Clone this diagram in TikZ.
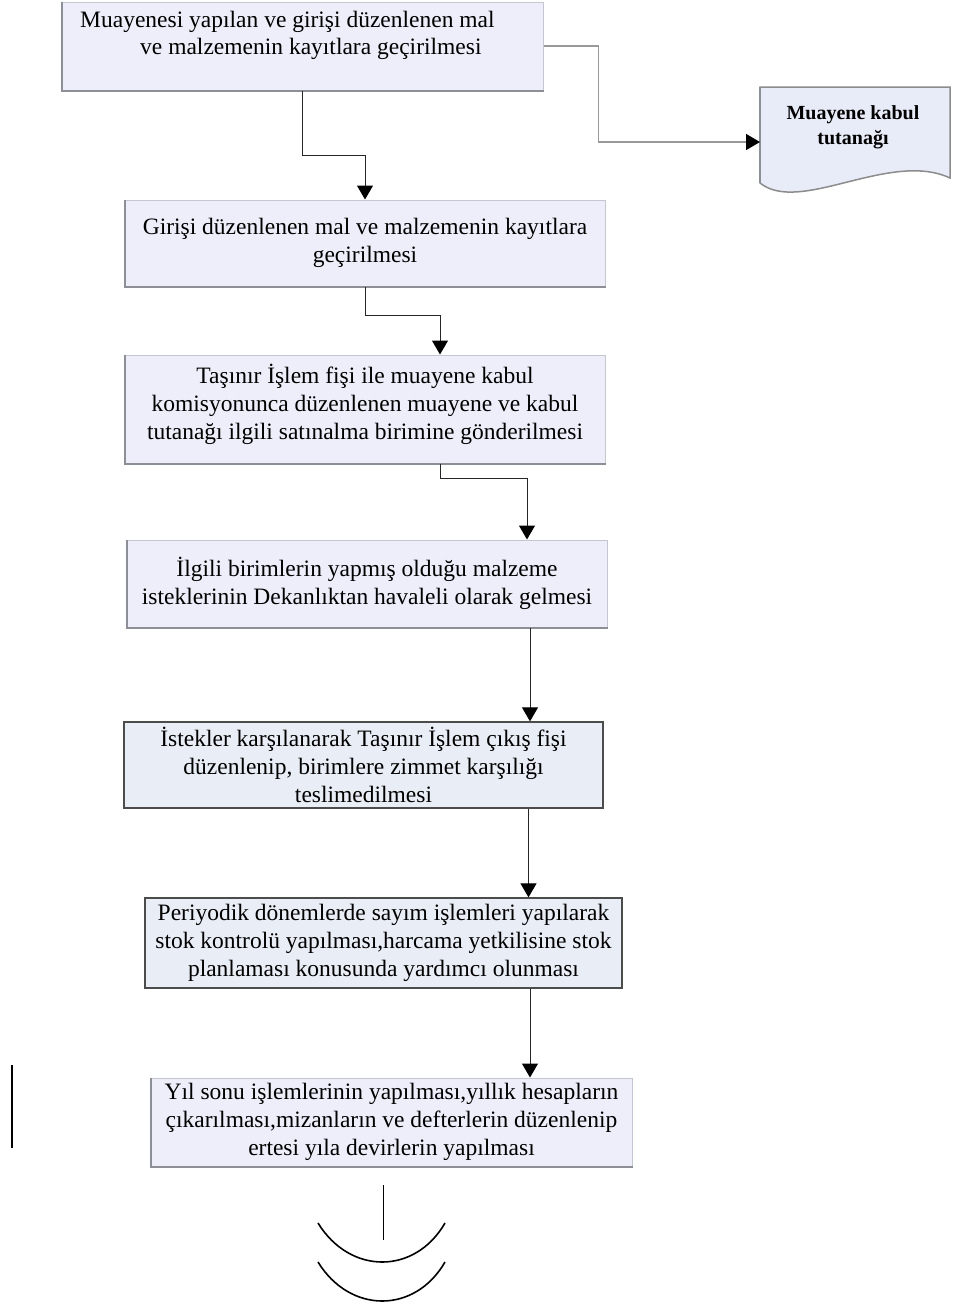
\documentclass[tikz,border=0pt]{standalone}
\usepackage{fontspec}
\setmainfont{Liberation Serif}
\usetikzlibrary{arrows.meta}
\definecolor{boxfill}{HTML}{EEEEFA}
\definecolor{boxfillb}{HTML}{E9EDF5}
\definecolor{docfill}{HTML}{E8ECF8}
\definecolor{rimgray}{HTML}{C4C6D0}
\definecolor{edgegray}{HTML}{8C8F96}
\tikzset{
  stepbox/.style={draw=rimgray, fill=boxfill, line width=1pt, inner sep=0pt, align=center, font=\fontsize{23.5}{28}\selectfont},
  darkbox/.style={stepbox, draw=black!70, fill=boxfillb, line width=1.3pt},
  shade/.style={draw=edgegray, line width=2pt},
  flow/.style={draw=black!85, line width=1pt, -{Triangle[length=14pt,width=16pt,black]}},
  grayflow/.style={flow, draw=black!40, line width=1.5pt},
}
\begin{document}
\begin{tikzpicture}[x=1pt,y=-1pt]
    \useasboundingbox (0,0) rectangle (953,1307);
    \node[stepbox, minimum width=481pt, minimum height=88pt] (kayit) at (302.5,46) {};
    \node[anchor=base west, inner sep=0pt, font=\fontsize{23.5}{28}\selectfont] (kayitA) at (80,27) {Muayenesi yapılan ve girişi düzenlenen mal};
    \node[anchor=base west, inner sep=0pt, font=\fontsize{23.5}{28}\selectfont] (kayitB) at (140,54) {ve malzemenin kayıtlara geçirilmesi};
    \node[stepbox, minimum width=480pt, minimum height=86pt] (giris) at (365,243) {Girişi düzenlenen mal ve malzemenin kayıtlara\\geçirilmesi};
    \node[stepbox, minimum width=480pt, minimum height=108pt] (tasinir) at (365,409) {Taşınır İşlem fişi ile muayene kabul\\komisyonunca düzenlenen muayene ve kabul\\tutanağı ilgili satınalma birimine gönderilmesi\\[-14pt]};
    \node[stepbox, minimum width=480pt, minimum height=87pt] (talep) at (367,583.5) {İlgili birimlerin yapmış olduğu malzeme\\isteklerinin Dekanlıktan havaleli olarak gelmesi};
    \node[darkbox, minimum width=479pt, minimum height=86pt] (cikis) at (363.5,765) {İstekler karşılanarak Taşınır İşlem çıkış fişi\\düzenlenip, birimlere zimmet karşılığı\\teslimedilmesi};
    \node[darkbox, minimum width=477pt, minimum height=90pt] (sayim) at (383.5,943) {Periyodik dönemlerde sayım işlemleri yapılarak\\stok kontrolü yapılması,harcama yetkilisine stok\\planlaması konusunda yardımcı olunması};
    \node[stepbox, minimum width=481pt, minimum height=88pt] (yilsonu) at (391.5,1122) {Yıl sonu işlemlerinin yapılması,yıllık hesapların\\çıkarılması,mizanların ve defterlerin düzenlenip\\ertesi yıla devirlerin yapılması};
    % darker left and bottom rims
    \foreach \b in {kayit,giris,tasinir,talep,yilsonu}
        \draw[shade] (\b.north west) -- (\b.south west) -- (\b.south east);
    % document
    \draw[draw=black!45, line width=1.5pt, fill=docfill] (760,87) -- (950,87) -- (950,178) .. controls (890,150) and (800,215) .. (760,183) -- cycle;
    \draw[draw=edgegray, line width=2pt] (760,87) -- (760,183);
    \node[align=center, inner sep=0pt, font=\bfseries\fontsize{20}{25}\selectfont] (tutanak) at (853,127) {Muayene kabul\\tutanağı};
    \coordinate (belgegiris) at (760,142);
    % connectors
    \draw[grayflow] (kayit.east) -- ++(55,0) |- (belgegiris);
    \draw[flow] (kayit.south) -- ++(0,65) -| (giris.north);
    \draw[flow] (giris.south) -- ++(0,29) -| ([xshift=75pt]tasinir.north);
    \draw[flow] ([xshift=75pt]tasinir.south) -- ++(0,15) -| ([xshift=160pt]talep.north);
    \draw[flow] ([xshift=163pt]talep.south) -- ([xshift=163pt]talep.south |- cikis.north);
    \draw[flow] ([xshift=165pt]cikis.south) -- ([xshift=165pt]cikis.south |- sayim.north);
    \draw[flow] ([xshift=146.5pt]sayim.south) -- ([xshift=146.5pt]sayim.south |- yilsonu.north);
    % loose marks
    \draw[line width=2pt] (12,1065) -- (12,1148);
    \draw[line width=1pt] (383,1185) -- (383,1240);
    \draw[line width=1.6pt] (318,1223) .. controls (350,1275) and (415,1275) .. (445,1223);
    \draw[line width=1.6pt] (318,1262) .. controls (350,1314) and (415,1314) .. (445,1262);
\end{tikzpicture}
\end{document}
